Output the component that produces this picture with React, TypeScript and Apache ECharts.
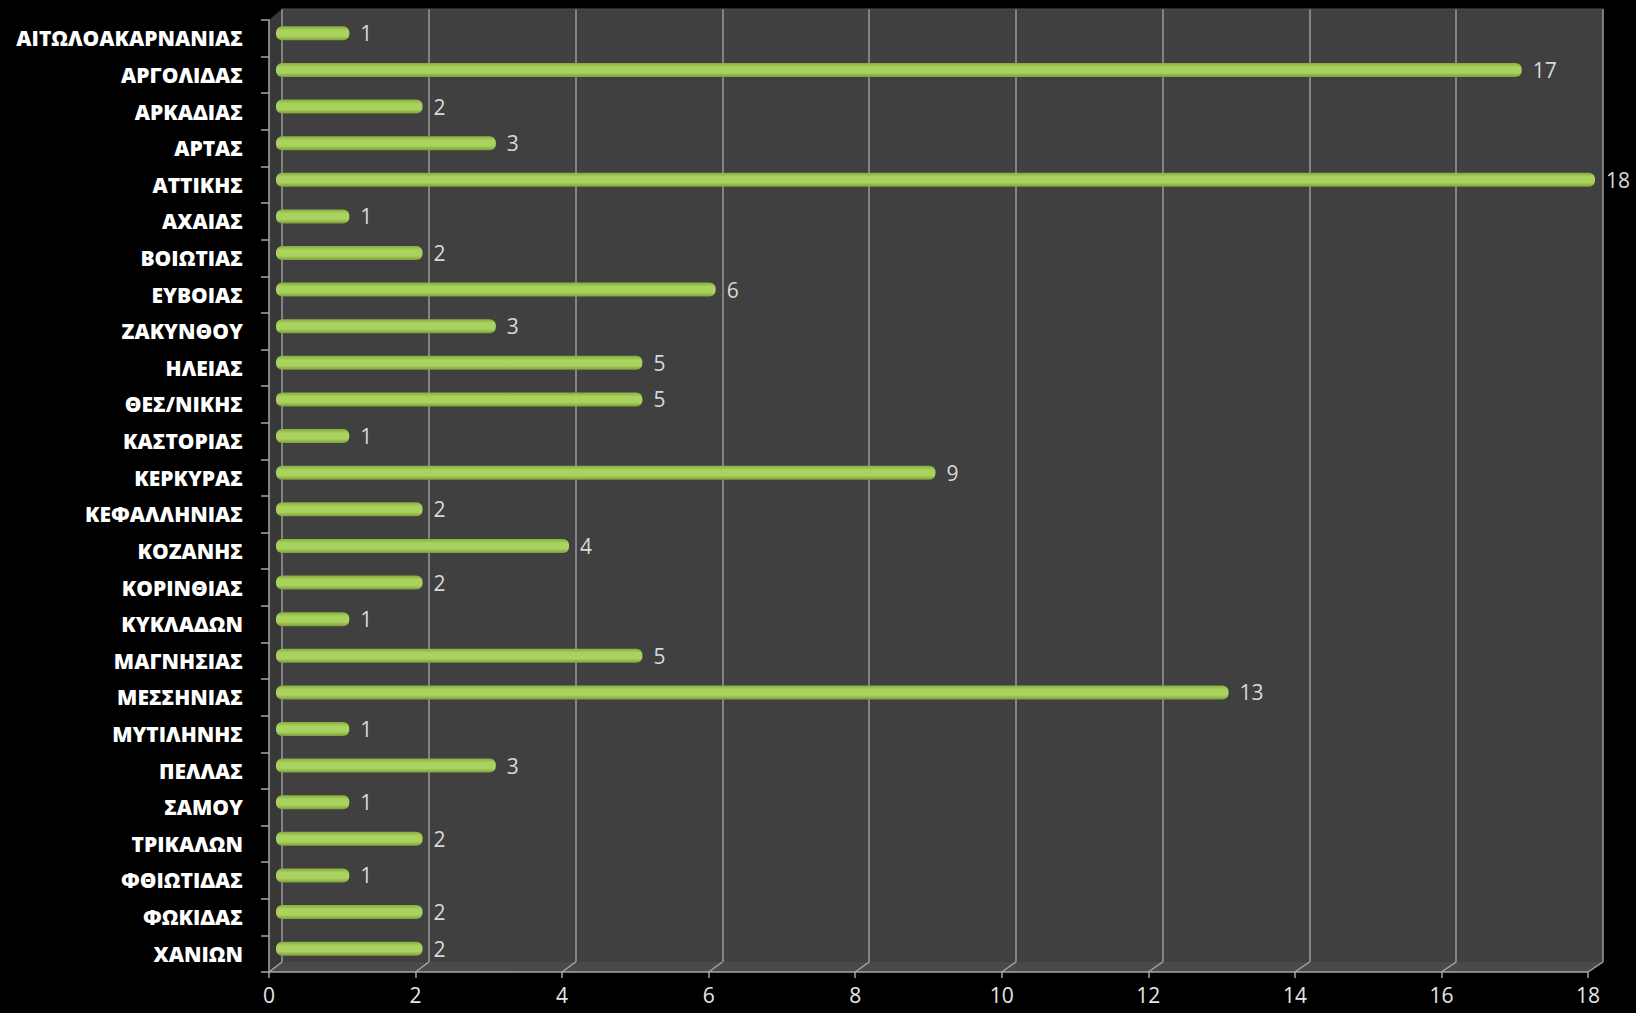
import React, { useEffect, useRef } from "react";
import * as echarts from "echarts";

const categories = [
  "ΑΙΤΩΛΟΑΚΑΡΝΑΝΙΑΣ", "ΑΡΓΟΛΙΔΑΣ", "ΑΡΚΑΔΙΑΣ", "ΑΡΤΑΣ", "ΑΤΤΙΚΗΣ", "ΑΧΑΙΑΣ",
  "ΒΟΙΩΤΙΑΣ", "ΕΥΒΟΙΑΣ", "ΖΑΚΥΝΘΟΥ", "ΗΛΕΙΑΣ", "ΘΕΣ/ΝΙΚΗΣ", "ΚΑΣΤΟΡΙΑΣ",
  "ΚΕΡΚΥΡΑΣ", "ΚΕΦΑΛΛΗΝΙΑΣ", "ΚΟΖΑΝΗΣ", "ΚΟΡΙΝΘΙΑΣ", "ΚΥΚΛΑΔΩΝ", "ΜΑΓΝΗΣΙΑΣ",
  "ΜΕΣΣΗΝΙΑΣ", "ΜΥΤΙΛΗΝΗΣ", "ΠΕΛΛΑΣ", "ΣΑΜΟΥ", "ΤΡΙΚΑΛΩΝ", "ΦΘΙΩΤΙΔΑΣ",
  "ΦΩΚΙΔΑΣ", "ΧΑΝΙΩΝ",
];
const values = [1, 17, 2, 3, 18, 1, 2, 6, 3, 5, 5, 1, 9, 2, 4, 2, 1, 5, 13, 1, 3, 1, 2, 1, 2, 2];
const xMin = 0;
const xMax = 18;
const xInterval = 2;
const xTicks = [0, 2, 4, 6, 8, 10, 12, 14, 16, 18];

const W = 1636;
const H = 1013;
// front plane
const F = { left: 269, right: 1588, top: 20, bottom: 972 };
// back wall
const B = { left: 282, right: 1603, top: 9, bottom: 962 };
// bars at mid depth
const M = { left: 276, right: 1595, top: 15, bottom: 967 };

const FONT = "'Open Sans', 'DejaVu Sans', sans-serif";
const AXIS_COLOR = "#a6a6a6";

export default function App() {
  const ref = useRef<HTMLDivElement>(null);
  useEffect(() => {
    if (!ref.current) return;
    const chart = echarts.init(ref.current, null, { renderer: "svg" });

    const gridOf = (g: any) => ({
      left: g.left,
      right: W - g.right,
      top: g.top,
      bottom: H - g.bottom,
      containLabel: false,
    });

    const hiddenX = (gridIndex: number) => ({
      type: "value",
      gridIndex,
      min: xMin,
      max: xMax,
      interval: xInterval,
      axisLine: { show: false },
      axisTick: { show: false },
      axisLabel: { show: false },
      splitLine: { show: false },
    });
    const hiddenY = (gridIndex: number) => ({
      type: "category",
      gridIndex,
      data: categories,
      inverse: true,
      axisLine: { show: false },
      axisTick: { show: false },
      axisLabel: { show: false },
      splitLine: { show: false },
    });

    // decorative 3D floor / side wall / diagonal tick lines
    const scaleX = (g: any, v: number) => g.left + ((v - xMin) / (xMax - xMin)) * (g.right - g.left);
    const graphics: any[] = [
      {
        type: "polygon",
        z: -1,
        shape: { points: [[F.left, F.top], [B.left, B.top], [B.left, B.bottom], [F.left, F.bottom]] },
        style: { fill: "#383838" },
        silent: true,
      },
      {
        type: "polygon",
        z: -1,
        shape: { points: [[F.left, F.bottom], [B.left, B.bottom], [B.right, B.bottom], [F.right, F.bottom]] },
        style: { fill: "#4a4a4a" },
        silent: true,
      },
      {
        type: "line",
        z: 5,
        shape: { x1: B.left, y1: B.top, x2: B.right, y2: B.top },
        style: { stroke: "#555", lineWidth: 1 },
        silent: true,
      },
      ...xTicks.map((t) => ({
        type: "line",
        z: 5,
        shape: { x1: scaleX(F, t), y1: F.bottom, x2: scaleX(B, t), y2: B.bottom },
        style: { stroke: AXIS_COLOR, lineWidth: 1.5 },
        silent: true,
      })),
    ];

    chart.setOption({
      animation: false,
      backgroundColor: "#000000",
      grid: [
        { ...gridOf(B), show: true, backgroundColor: "#404040", borderWidth: 0 },
        gridOf(M),
        gridOf(F),
      ],
      xAxis: [
        {
          ...hiddenX(0),
          splitLine: { show: true, lineStyle: { color: "#9a9a9a", width: 1.5 } },
        },
        hiddenX(1),
        {
          type: "value",
          gridIndex: 2,
          min: xMin,
          max: xMax,
          interval: xInterval,
          axisLine: { show: true, lineStyle: { color: AXIS_COLOR, width: 1.5 } },
          axisTick: { show: true, length: 6, lineStyle: { color: AXIS_COLOR, width: 1.5 } },
          axisLabel: { color: "#e6e6e6", fontSize: 21, fontFamily: FONT, margin: 12, lineHeight: 22 },
          splitLine: { show: false },
        },
      ],
      yAxis: [
        hiddenY(0),
        hiddenY(1),
        {
          type: "category",
          gridIndex: 2,
          data: categories,
          inverse: true,
          axisLine: { show: true, lineStyle: { color: AXIS_COLOR, width: 1.5 } },
          axisTick: { show: true, length: 8, lineStyle: { color: AXIS_COLOR, width: 1.5 } },
          axisLabel: {
            color: "#ffffff",
            fontSize: 21,
            fontWeight: 800,
            fontFamily: FONT,
            margin: 26,
          },
          splitLine: { show: false },
        },
      ],
      series: [
        {
          type: "bar",
          xAxisIndex: 1,
          yAxisIndex: 1,
          data: values,
          barWidth: 14,
          itemStyle: {
            borderRadius: 6,
            color: new echarts.graphic.LinearGradient(0, 0, 0, 1, [
              { offset: 0, color: "#86ad3e" },
              { offset: 0.3, color: "#a9d25e" },
              { offset: 0.7, color: "#a9d25e" },
              { offset: 1, color: "#7c9f38" },
            ]),
          },
          label: {
            show: true,
            position: "right",
            distance: 11,
            color: "#d9d9d9",
            fontSize: 21,
            fontFamily: FONT,
          },
        },
      ],
      graphic: graphics,
    });

    return () => chart.dispose();
  }, []);

  return (
    <div
      ref={ref}
      style={{ position: "fixed", left: 0, top: 0, width: W, height: H, background: "#000" }}
    />
  );
}
